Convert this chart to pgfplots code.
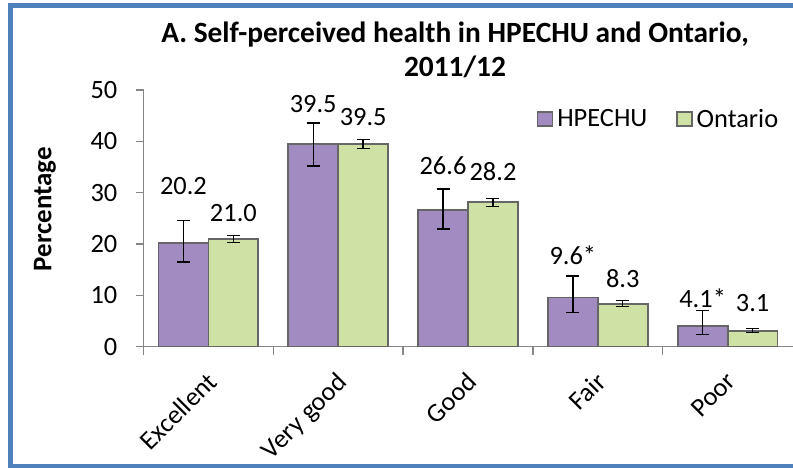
\documentclass[border=0pt]{standalone}
\usepackage{pgfplots}
\pgfplotsset{compat=1.18}
\usepackage{fontspec}
\setmainfont{Carlito}
\definecolor{frameblue}{HTML}{4F81BD}
\definecolor{hpurp}{HTML}{A28BC1}
\definecolor{ogreen}{HTML}{D0E1A5}
\definecolor{axgray}{HTML}{868686}
\definecolor{barline}{HTML}{666666}
\newcommand{\bigf}{\fontsize{26.5}{31}\selectfont}
\begin{document}
\begin{tikzpicture}
\useasboundingbox (0,0) rectangle (793bp,468bp);
\fill[white] (0,0) rectangle (793bp,468bp);
\fill[frameblue] (8bp,0bp) rectangle (13bp,464.5bp);
\fill[frameblue] (8bp,459.5bp) rectangle (793bp,464.5bp);
\fill[frameblue] (8bp,0bp) rectangle (793bp,4bp);
\node[font=\fontsize{29.5}{34}\selectfont\bfseries, align=center] at (455bp,418bp) {A. Self-perceived health in HPECHU and Ontario,\\2011/12};
\begin{axis}[
  overlay,
  at={(143.5bp,121.3bp)}, anchor=south west,
  scale only axis, width=649bp, height=256.7bp,
  xmin=-0.5, xmax=4.5, ymin=0, ymax=50,
  axis lines*=left,
  axis line style={axgray, line width=1.3bp},
  tick align=outside,
  ytick={0,10,20,30,40,50},
  major tick length=8bp,
  minor tick length=8bp,
  y tick style={axgray, line width=1.3bp},
  xtick={0,1,2,3,4},
  xticklabels={Excellent, Very good, Good, Fair, Poor},
  major x tick style={draw=none},
  minor xtick={-0.5,0.5,1.5,2.5,3.5},
  minor x tick style={axgray, line width=1.3bp},
  tick label style={font=\bigf, black},
  /pgf/number format/assume math mode=true,
  yticklabel style={anchor=east, inner xsep=18bp},
  xticklabel style={xshift=-3bp, yshift=-13bp, rotate=45, anchor=north east, inner sep=2bp},
  ylabel={\bfseries Percentage},
  ylabel style={font=\fontsize{27}{32}\selectfont, at={(axis description cs:-0.152,0.536)}, anchor=center},
  legend style={at={(rel axis cs:0.7952,0.887)}, anchor=center, draw=none, fill=none, font=\bigf, legend columns=2,
    /tikz/every even column/.append style={column sep=25bp},
    nodes={inner sep=4bp}},
  legend image code/.code={\draw[#1, line width=1.3bp] (0bp,-7bp) rectangle (15bp,7bp);},
]
\addplot[ybar, bar width=0.385, bar shift=0, fill=hpurp, draw=barline, line width=1.8bp,
  error bars/.cd, y dir=both, y explicit,
  error bar style={black, line width=1.4bp},
  error mark options={rotate=90, mark size=6.5bp, line width=1.4bp, black}]
  table[x=x, y=y, y error plus=ep, y error minus=em] {
x y ep em
-0.1925 20.2 4.4 3.7
0.8075 39.5 4.1 4.3
1.8075 26.6 4.1 3.7
2.8075 9.6 4.2 2.9
3.8075 4.1 2.9 1.7
};
\addlegendentry{HPECHU}
\addplot[ybar, bar width=0.385, bar shift=0, fill=ogreen, draw=barline, line width=1.8bp,
  error bars/.cd, y dir=both, y explicit,
  error bar style={black, line width=1.4bp},
  error mark options={rotate=90, mark size=6.5bp, line width=1.4bp, black}]
  table[x=x, y=y, y error plus=ep, y error minus=em] {
x y ep em
0.1925 21.0 0.7 0.65
1.1925 39.5 0.8 0.9
2.1925 28.2 0.7 0.9
3.1925 8.3 0.7 0.5
4.1925 3.1 0.5 0.3
};
\addlegendentry{Ontario}
\addplot[forget plot, draw=none, mark=none, nodes near coords, point meta=explicit symbolic,
  every node near coord/.append style={anchor=center, font=\bigf, black}]
  table[x=x, y=y, meta=lab] {
x y lab
-0.1925 31.2 20.2
0.1925 26.1 21.0
0.8075 47.3 39.5
1.1925 44.8 39.5
1.8075 35.2 26.6
2.1925 34.1 28.2
2.8075 17.9 9.6*
3.1925 13.3 8.3
3.8075 9.4 4.1*
4.1925 8.5 3.1
};
\end{axis}
\end{tikzpicture}
\end{document}
